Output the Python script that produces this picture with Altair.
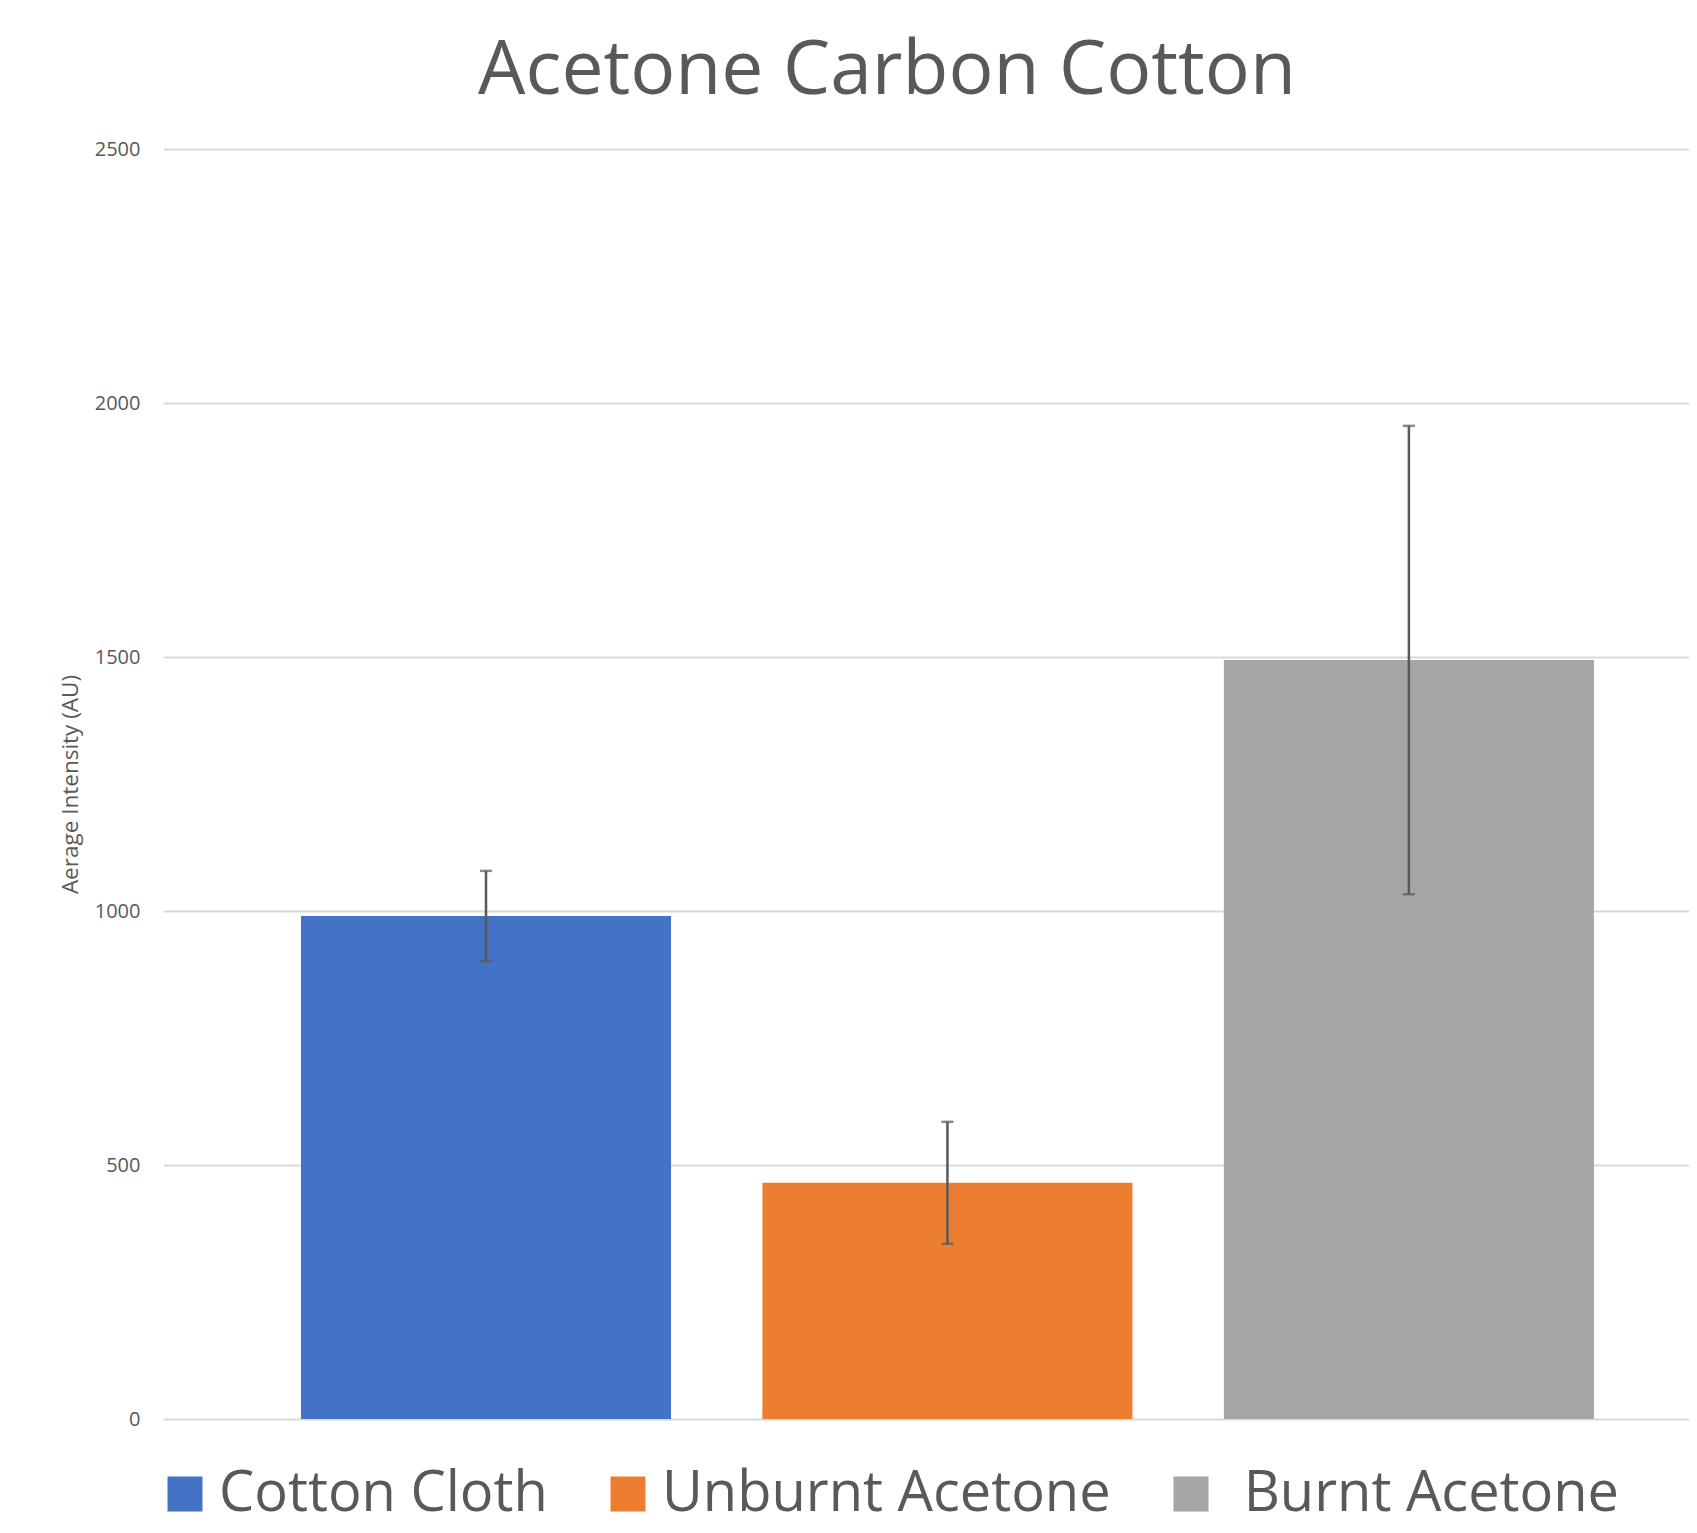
import altair as alt
import pandas as pd

series = ["Cotton Cloth", "Unburnt Acetone", "Burnt Acetone"]
means = [990, 465, 1494]
errors = [89, 120, 461]
colors = ["#4472C4", "#ED7D31", "#A5A5A5"]
y_ticks = [0, 500, 1000, 1500, 2000, 2500]

df = pd.DataFrame({"series": series, "mean": means, "err": errors})
df["lo"] = df["mean"] - df["err"]
df["hi"] = df["mean"] + df["err"]

FONT = "Open Sans"
TXT = "#595959"

xscale = alt.Scale(domain=series, paddingInner=0.198, paddingOuter=0.2525, align=0.592)
x = alt.X("series:N", scale=xscale, axis=None, sort=series)
yscale = alt.Scale(domain=[0, 2500], nice=False, zero=True)

y_axis = alt.Axis(
    values=y_ticks,
    format="d",
    title="Aerage Intensity (AU)",
    titleFont=FONT,
    titleFontSize=22.5,
    titleFontWeight="normal",
    titleColor=TXT,
    titlePadding=12,
    labelFont=FONT,
    labelFontSize=20,
    labelColor=TXT,
    labelPadding=23,
    domain=False,
    ticks=False,
    grid=True,
    gridColor="#D9D9D9",
    gridWidth=2,
)

base = alt.Chart(df)

bars = base.mark_bar().encode(
    x=x,
    y=alt.Y("mean:Q", scale=yscale, axis=y_axis),
    color=alt.Color(
        "series:N",
        scale=alt.Scale(domain=series, range=colors),
        legend=alt.Legend(
            title=None,
            orient="none",
            direction="horizontal",
            legendX=-6,
            legendY=1317,
            symbolType="square",
            symbolSize=1225,
            symbolStrokeWidth=0,
            symbolOpacity=1,
            labelFont=FONT,
            labelFontSize=56,
            labelColor=TXT,
            labelOffset=6,
            columnPadding=52,
            labelLimit=1000,
            labelExpr="datum.value == 'Burnt Acetone' ? '\\u200b\\u2004' + datum.label : datum.label",
        ),
    ),
)

rules = base.mark_rule(color=TXT, strokeWidth=2.5).encode(
    x=x, y=alt.Y("lo:Q", scale=yscale, axis=y_axis), y2="hi:Q"
)
caps_hi = base.mark_tick(color=TXT, thickness=2.5, size=12, orient="horizontal").encode(
    x=x, y=alt.Y("hi:Q", scale=yscale, axis=y_axis)
)
caps_lo = base.mark_tick(color=TXT, thickness=2.5, size=12, orient="horizontal").encode(
    x=x, y=alt.Y("lo:Q", scale=yscale, axis=y_axis)
)

chart = (
    alt.layer(bars, rules, caps_hi, caps_lo)
    .properties(
        width=1526,
        height=1270,
        autosize=alt.AutoSizeParams(type="none"),
        padding={"left": 155, "top": 141, "right": 0, "bottom": 112},
        title=alt.TitleParams(
            "Acetone Carbon Cotton",
            font=FONT,
            fontSize=75,
            fontWeight="normal",
            color=TXT,
            anchor="middle",
            frame="group",
            dx=-39,
            offset=29,
        ),
    )
    .configure(font=FONT)
    .configure_view(strokeWidth=0, stroke="transparent")
    .configure_axis(domain=False, ticks=False)
)

chart.save("out.html", embed_options={"renderer": "svg", "actions": False})
